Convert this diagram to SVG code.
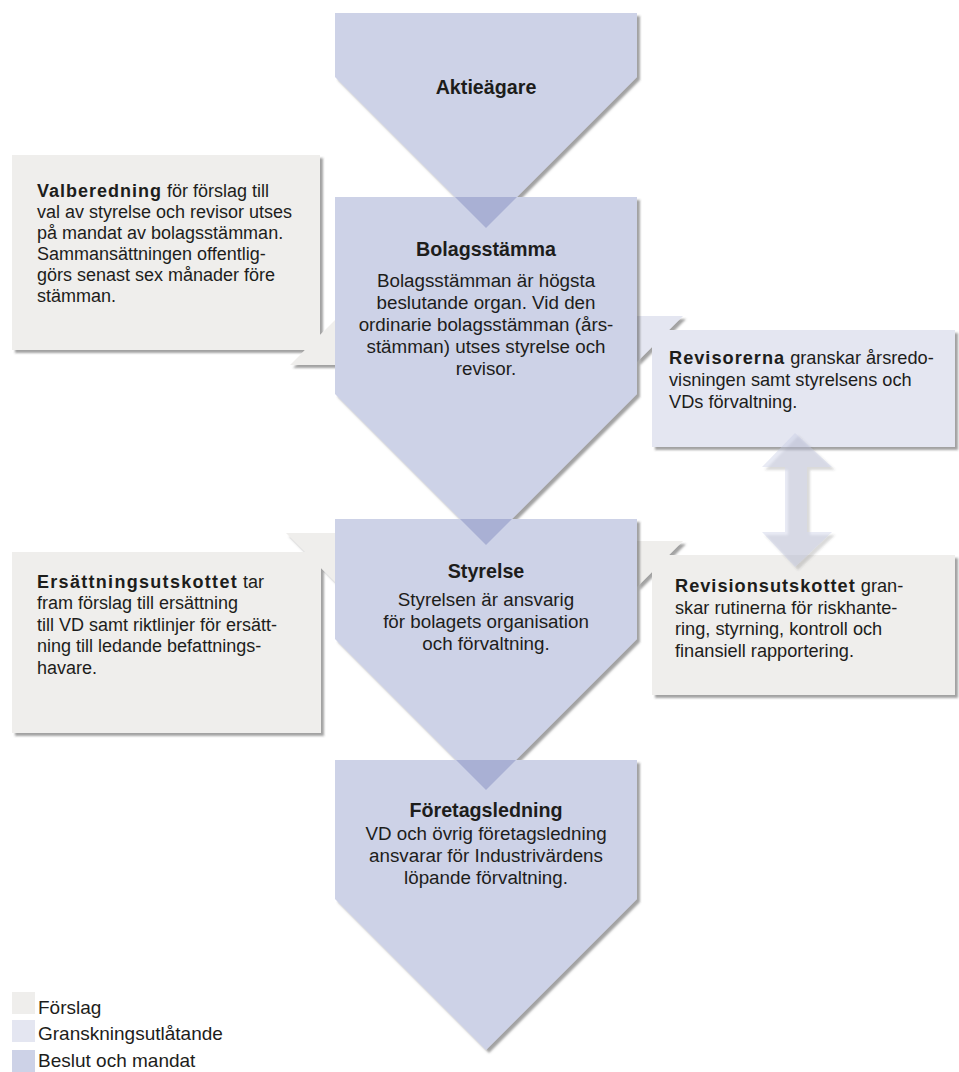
<svg xmlns="http://www.w3.org/2000/svg" width="959" height="1072" viewBox="0 0 959 1072">
<defs>
<filter id="sh" x="-10%" y="-10%" width="130%" height="130%">
<feDropShadow dx="3" dy="3" stdDeviation="1.3" flood-color="#444" flood-opacity="0.5"/>
</filter>
<style>
text{font-family:"Liberation Sans",Arial,sans-serif;font-size:18px;fill:#1d1d1b}
.b{font-weight:bold;letter-spacing:1px}
.t{font-weight:bold;font-size:19.7px}
.c{text-anchor:middle}
.ar{font-size:18.8px}
.rb{font-size:18.2px}
.lg{font-size:19px}
.prop{fill:#efeeec}
.rev{fill:#e4e6f1}
.dec{fill:#cdd2e7}
.ov{fill:#a9b0d4}
</style>
</defs>
<rect width="959" height="1072" fill="#fff"/>

<g id="valberedning">
<path class="prop" filter="url(#sh)" d="M12,155 H320 V335 L335,320 V365 H290 L305,350 H12 Z"/>
<text x="37" y="197"><tspan class="b">Valberedning</tspan> för förslag till</text>
<text x="37" y="218">val av styrelse och revisor utses</text>
<text x="37" y="239">på mandat av bolagsstämman.</text>
<text x="37" y="260">Sammansättningen offentlig-</text>
<text x="37" y="281">görs senast sex månader före</text>
<text x="37" y="302">stämman.</text>
</g>

<g id="ersattningsutskottet">
<path class="prop" filter="url(#sh)" d="M12,552 H305 L286,533 H335 V582 L321,568 V733 H12 Z"/>
<text x="37" y="588"><tspan class="b" style="letter-spacing:1.3px">Ersättningsutskottet</tspan> tar</text>
<text x="37" y="609">fram förslag till ersättning</text>
<text x="37" y="631">till VD samt riktlinjer för ersätt-</text>
<text x="37" y="652">ning till ledande befattnings-</text>
<text x="37" y="674">havare.</text>
</g>

<g id="revisorerna">
<path class="rev" filter="url(#sh)" d="M669,330 L683,316 H637 V362 L652,347 V447 H955 V330 Z"/>
<text class="rb" x="669" y="364"><tspan class="b">Revisorerna</tspan> granskar årsredo-</text>
<text class="rb" x="669" y="386">visningen samt styrelsens och</text>
<text class="rb" x="669" y="408">VDs förvaltning.</text>
</g>

<g id="revisionsutskottet">
<path class="prop" filter="url(#sh)" d="M669,555 L683,541 H637 V587 L652,572 V695 H955 V555 Z"/>
<text class="rb" x="675" y="592"><tspan class="b">Revisionsutskottet</tspan> gran-</text>
<text class="rb" x="675" y="614">skar rutinerna för riskhante-</text>
<text class="rb" x="675" y="635">ring, styrning, kontroll och</text>
<text class="rb" x="675" y="657">finansiell rapportering.</text>
</g>

<g id="aktieagare">
<path class="dec" filter="url(#sh)" d="M335,13 H637 V77 L486,228 L335,77 Z"/>
<text class="t c" x="486" y="94">Aktieägare</text>
</g>

<g id="bolagsstamma">
<path class="dec" filter="url(#sh)" d="M335,197 H637 V394 L486,545 L335,394 Z"/>
<path class="ov" d="M455,197 H517 L486,228 Z"/>
<text class="t c" x="486" y="256">Bolagsstämma</text>
<text class="ar c" x="486" y="287">Bolagsstämman är högsta</text>
<text class="ar c" x="486" y="309">beslutande organ. Vid den</text>
<text class="ar c" x="486" y="331">ordinarie bolagsstämman (års-</text>
<text class="ar c" x="486" y="353">stämman) utses styrelse och</text>
<text class="ar c" x="486" y="375">revisor.</text>
</g>

<g id="styrelse">
<path class="dec" filter="url(#sh)" d="M335,519 H637 V639 L486,790 L335,639 Z"/>
<path class="ov" d="M460,519 H512 L486,545 Z"/>
<text class="t c" x="486" y="578">Styrelse</text>
<text class="ar c" x="486" y="606">Styrelsen är ansvarig</text>
<text class="ar c" x="486" y="628">för bolagets organisation</text>
<text class="ar c" x="486" y="650">och förvaltning.</text>
</g>

<g id="foretagsledning">
<path class="dec" filter="url(#sh)" d="M335,760 H637 V899 L486,1050 L335,899 Z"/>
<path class="ov" d="M456,760 H516 L486,790 Z"/>
<text class="t c" x="486" y="817">Företagsledning</text>
<text class="ar c" x="486" y="840">VD och övrig företagsledning</text>
<text class="ar c" x="486" y="862">ansvarar för Industrivärdens</text>
<text class="ar c" x="486" y="884">löpande förvaltning.</text>
</g>

<g id="connectors">
<path filter="url(#sh)" fill="#c5cbe3" fill-opacity="0.4" d="M795,433 L832,467 H807 V532 H832 L795,567 L762,532 H785 V467 H762 Z"/>
</g>

<g id="legend">
<rect class="prop" x="12" y="992" width="23" height="22"/>
<rect class="rev" x="12" y="1020" width="23" height="22"/>
<rect class="dec" x="12" y="1050" width="23" height="22"/>
<text class="lg" x="38" y="1014">Förslag</text>
<text class="lg" x="38" y="1040">Granskningsutlåtande</text>
<text class="lg" x="38" y="1067">Beslut och mandat</text>
</g>
</svg>
